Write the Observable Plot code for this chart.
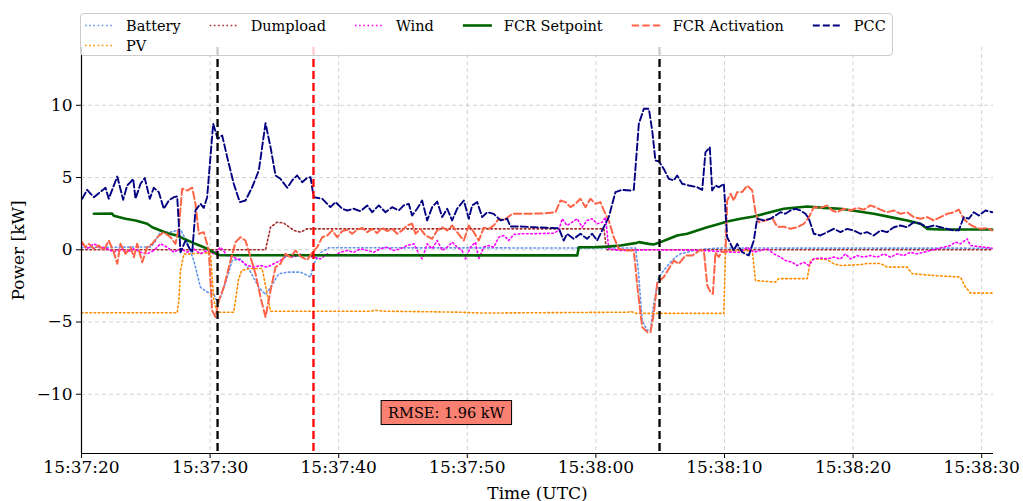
<!DOCTYPE html>
<html><head><meta charset="utf-8">
<script src="https://cdn.jsdelivr.net/npm/d3@7"></script>
<script src="https://cdn.jsdelivr.net/npm/@observablehq/plot@0.6"></script>
<style>
body{margin:0;background:#fff;}
#wrap{position:relative;width:1023px;height:501px;font-family:"DejaVu Serif",serif;}
#legend{position:absolute;left:80px;top:13px;width:813px;height:43px;box-sizing:border-box;border:1px solid #cccccc;border-radius:4px;background:rgba(255,255,255,0.8);}
</style></head><body><div id="wrap"></div>
<script>
// Time offsets in seconds after 15:37:20 UTC, values in kW
const battery = [[0,0.15],[5.37,0.2],[5.62,0.41],[6.14,1.22],[6.92,1.22],[7.7,1.4],[8.22,0.5],[8.73,-0.74],[9.25,-2.59],[9.77,-2.93],[10.29,-3.05],[10.55,-3.6],[10.81,-3.28],[11.33,-1.89],[11.72,-0.74],[12.36,-0.63],[13.01,-1.32],[13.79,-2.59],[14.31,-3.1],[14.7,-2.59],[15.35,-1.66],[16.0,-1.55],[17.03,-1.55],[17.81,-1.89],[18.06,-0.97],[18.58,-0.2],[19.23,0.14],[43.08,0.12],[43.31,-1.5],[43.6,-4.9],[43.99,-5.58],[44.25,-5.5],[44.5,-3.74],[44.89,-1.89],[45.28,-1.43],[45.8,-0.86],[46.19,-0.51],[46.58,-0.28],[47.1,-0.17],[47.57,-0.05],[48.35,0.05],[49.69,0.12],[70.82,0.11]];
const pv = [[0,-4.36],[7.44,-4.36],[7.57,-3.51],[7.7,-1.43],[7.96,-0.3],[10.03,-0.2],[10.29,-3.51],[10.55,-4.32],[11.84,-4.32],[12.2,-2.1],[12.45,-1.43],[13.0,-1.3],[14.05,-1.3],[14.31,-2.5],[14.7,-4.25],[17.03,-4.25],[22.47,-4.25],[22.86,-4.18],[23.4,-4.25],[29.47,-4.32],[31.03,-4.38],[42.53,-4.32],[42.69,-4.25],[43.08,-4.4],[49.95,-4.4],[50.08,-0.1],[52.16,-0.05],[52.41,-2.13],[53.97,-2.24],[54.22,-2.0],[56.43,-2.0],[56.69,-0.74],[56.95,-0.63],[57.99,-0.68],[58.5,-0.97],[59.02,-1.09],[60.57,-1.03],[61.09,-0.95],[62.13,-0.95],[62.65,-1.2],[64.21,-1.2],[64.6,-1.66],[66.28,-1.78],[68.35,-1.89],[68.74,-2.59],[69.13,-3.0],[70.82,-3.0]];
const dumpload = [[0,0],[14.31,0],[14.7,1.56],[15.22,1.91],[15.73,1.85],[16.51,1.34],[17.03,1.22],[17.55,1.45],[40.62,1.45],[40.83,0],[70.82,0]];
const wind = [[0,0.41],[0.44,0.07],[0.96,0.41],[1.48,0.18],[2.0,0.07],[2.51,-0.17],[3.03,0.07],[3.55,-0.17],[4.07,0.07],[4.59,-0.17],[5.11,-0.28],[5.62,-0.05],[6.14,0.41],[6.66,0.18],[7.18,-0.17],[7.7,0.07],[8.22,-0.17],[8.73,0.07],[9.25,-0.28],[9.77,-0.05],[10.29,-0.28],[10.81,0.18],[11.33,-0.4],[11.84,-0.51],[12.36,-0.74],[12.89,-1.09],[13.4,-1.2],[13.92,-1.09],[14.44,-1.2],[14.95,-0.97],[15.47,-0.74],[16.0,-0.4],[16.51,-0.51],[17.03,-0.3],[17.55,-0.39],[18.06,-0.51],[18.58,-0.63],[19.11,-0.28],[19.62,-0.39],[20.14,-0.17],[20.66,-0.05],[21.17,-0.17],[21.7,0.07],[22.22,-0.05],[22.73,-0.17],[23.25,0.07],[23.77,0.18],[24.29,-0.05],[24.81,0.07],[25.33,0.3],[25.84,0.41],[26.23,-0.28],[26.49,-0.63],[26.88,0.41],[27.27,0.07],[27.66,0.64],[28.05,-0.05],[28.44,0.18],[28.83,0.53],[29.21,0.18],[29.6,-0.05],[29.86,-0.63],[30.25,0.18],[30.64,0.53],[30.89,-0.63],[31.28,0.18],[31.67,0.3],[32.06,0.18],[32.45,0.87],[32.84,0.99],[33.23,0.64],[33.62,1.06],[34.14,1.11],[35.17,1.11],[36.73,1.15],[37.12,1.34],[37.38,2.15],[37.76,1.68],[38.16,1.91],[38.55,2.15],[38.93,1.56],[39.32,2.03],[39.71,2.15],[40.1,1.8],[40.49,1.91],[40.75,2.26],[41.0,0.07],[41.91,-0.05],[44.25,0.0],[47.88,-0.03],[50.72,-0.17],[51.24,-0.17],[51.77,0.18],[52.28,-0.17],[52.8,-0.05],[53.32,0.07],[53.84,-0.28],[54.35,-0.51],[54.74,-0.74],[55.26,-0.86],[55.65,-1.09],[56.17,-0.86],[56.56,-1.09],[56.95,-0.63],[57.47,-0.57],[57.99,-0.63],[58.5,-0.51],[59.02,-0.63],[59.41,-0.28],[59.8,-0.63],[60.32,-0.4],[60.83,-0.51],[61.35,-0.4],[61.87,-0.51],[62.39,-0.28],[62.91,-0.51],[63.43,-0.28],[63.95,-0.4],[64.46,-0.17],[64.98,-0.28],[65.5,-0.17],[66.02,-0.05],[66.54,0.07],[67.06,0.18],[67.57,0.3],[67.96,0.53],[68.35,0.41],[68.87,0.76],[69.13,0.3],[69.65,0.23],[70.16,0.18],[70.82,0.11]];
const fcrSetpoint = [[0.96,2.49],[2.39,2.5],[2.51,2.35],[3.42,2.15],[4.2,2.03],[5.11,1.8],[5.5,1.56],[6.14,1.34],[6.66,1.15],[7.44,0.99],[7.96,0.76],[8.73,0.46],[9.51,0.18],[10.29,-0.17],[10.55,-0.33],[10.81,-0.38],[38.55,-0.39],[38.67,0.18],[39.81,0.18],[40.88,0.22],[41.91,0.3],[43.08,0.46],[43.34,0.53],[44.12,0.41],[44.5,0.36],[45.02,0.53],[45.54,0.71],[46.32,0.99],[47.1,1.11],[47.88,1.34],[48.66,1.56],[49.43,1.75],[50.21,1.95],[51.24,2.15],[52.28,2.3],[53.32,2.55],[54.61,2.84],[56.43,3.0],[57.72,2.9],[59.02,2.84],[60.32,2.67],[61.61,2.49],[62.91,2.26],[64.21,2.03],[65.24,1.8],[65.76,1.45],[66.8,1.4],[70.82,1.4]];
const fcrActivation = [[0.05,0.53],[0.31,0.18],[0.57,0.41],[0.96,0.07],[1.35,0.3],[1.73,-0.05],[2.12,0.64],[2.51,-0.17],[2.78,-0.97],[3.03,0.41],[3.42,-0.28],[3.81,0.18],[4.07,-0.51],[4.33,0.41],[4.72,-0.86],[5.11,0.18],[5.5,0.41],[5.89,0.87],[6.4,1.22],[6.92,0.87],[7.31,0.41],[7.57,1.56],[7.83,4.22],[8.22,4.1],[8.61,4.3],[8.86,3.18],[9.12,1.11],[9.51,1.22],[9.9,-0.05],[10.16,-4.2],[10.42,-4.66],[10.68,-3.51],[11.07,-2.59],[11.59,-0.74],[11.98,0.53],[12.36,0.87],[12.75,0.64],[13.14,-0.51],[13.53,-1.66],[13.92,-3.28],[14.31,-4.66],[14.7,-2.82],[15.09,-1.2],[15.47,-0.97],[15.86,-0.28],[16.25,-0.51],[16.64,-0.05],[17.03,-0.45],[17.55,-0.7],[17.94,-0.2],[18.33,0.18],[18.72,0.87],[19.11,0.99],[19.5,1.34],[19.88,0.87],[20.27,1.29],[20.66,1.38],[21.05,1.11],[21.44,1.38],[21.83,1.52],[22.22,1.22],[22.6,1.45],[22.99,1.15],[23.38,1.52],[23.77,1.29],[24.16,1.45],[24.55,1.11],[24.94,1.34],[25.33,1.68],[25.71,1.8],[25.97,1.11],[26.36,1.45],[26.75,0.99],[27.27,0.76],[27.66,1.34],[28.05,1.56],[28.44,1.34],[28.83,1.68],[29.21,1.22],[29.73,0.64],[30.12,1.68],[30.51,1.22],[30.89,0.64],[31.28,1.52],[31.67,1.45],[32.06,1.68],[32.45,2.15],[32.84,2.03],[33.23,2.3],[33.49,2.49],[34.66,2.49],[35.95,2.52],[36.86,2.6],[37.25,3.41],[37.64,3.3],[38.02,2.95],[38.41,3.18],[38.8,3.53],[39.19,2.95],[39.58,3.53],[39.97,3.18],[40.36,3.3],[40.62,2.72],[41.0,2.03],[41.39,0.87],[41.78,0.07],[42.43,-0.05],[42.95,-0.05],[43.26,-2.82],[43.6,-5.35],[43.99,-5.7],[44.25,-5.7],[44.5,-4.43],[44.77,-2.3],[45.28,-1.89],[45.67,-1.32],[46.06,-0.74],[46.45,-0.97],[46.97,-0.4],[47.49,-0.4],[48.14,0.0],[48.4,-0.1],[48.66,-2.47],[48.91,-2.93],[49.1,-3.05],[49.3,-0.2],[49.56,-0.5],[49.82,-0.1],[50.08,-0.2],[50.21,3.41],[50.47,3.88],[50.72,3.41],[50.99,3.99],[51.38,4.0],[51.77,4.45],[52.16,4.1],[52.41,2.6],[52.67,1.91],[53.19,2.03],[53.71,2.2],[54.1,1.6],[54.61,1.6],[55.13,1.45],[55.65,1.56],[56.17,1.8],[56.56,2.26],[56.95,2.95],[57.47,2.9],[57.99,3.07],[58.38,2.72],[58.77,2.6],[59.28,2.84],[59.8,2.72],[60.32,2.9],[60.83,2.78],[61.35,3.07],[61.74,2.95],[62.13,2.78],[62.65,2.6],[63.17,2.72],[63.69,2.49],[64.21,2.6],[64.72,2.26],[65.24,2.15],[65.76,2.26],[66.28,2.03],[66.8,2.26],[67.32,2.49],[67.83,2.6],[68.22,2.78],[68.61,2.15],[69.0,1.8],[69.39,1.6],[69.91,1.45],[70.43,1.5],[70.82,1.34]];
const pcc = [[0.05,3.53],[0.44,4.15],[0.96,3.64],[1.87,4.29],[2.12,3.53],[2.78,5.07],[3.24,3.46],[3.55,4.45],[3.81,4.68],[4.02,4.91],[4.2,3.53],[4.59,4.57],[4.92,4.96],[5.31,3.53],[5.62,4.29],[6.01,3.99],[6.4,2.84],[6.79,3.41],[7.18,3.64],[7.44,3.69],[7.7,-0.17],[8.09,0.64],[8.34,0.18],[8.61,-0.17],[8.86,2.72],[9.25,3.18],[9.51,2.9],[9.77,3.64],[10.24,8.72],[10.6,7.68],[10.94,7.91],[11.33,6.41],[11.84,4.57],[12.31,3.3],[12.75,3.41],[13.27,4.33],[13.79,5.49],[14.31,8.76],[14.7,7.1],[15.09,5.14],[15.47,4.91],[16.0,4.29],[16.38,4.8],[16.77,5.14],[17.16,4.68],[17.55,4.98],[17.81,5.02],[18.06,3.64],[18.72,3.53],[19.36,2.95],[19.75,3.3],[20.27,2.84],[20.66,2.72],[21.17,2.84],[21.7,2.67],[22.22,3.07],[22.6,2.6],[23.12,3.07],[23.64,2.6],[24.16,2.95],[24.67,2.72],[25.06,3.07],[25.45,3.18],[25.71,2.37],[26.1,2.84],[26.49,3.41],[26.88,2.03],[27.27,2.95],[27.66,3.34],[28.05,2.26],[28.44,2.84],[28.82,2.03],[29.21,2.84],[29.73,3.41],[30.12,2.15],[30.38,3.07],[30.77,3.3],[31.16,2.26],[31.55,2.6],[32.06,2.49],[32.58,2.03],[33.1,2.15],[33.36,1.61],[34.14,1.61],[35.17,1.56],[36.21,1.52],[37.12,1.49],[37.5,0.64],[37.76,1.11],[38.28,0.76],[38.8,1.11],[39.32,0.76],[39.71,1.11],[40.1,0.64],[40.49,1.34],[41.0,2.26],[41.52,3.99],[42.04,4.15],[42.69,4.1],[42.95,4.15],[43.34,8.72],[43.73,9.76],[44.12,9.76],[44.38,8.26],[44.63,6.18],[44.89,6.13],[45.28,5.6],[45.67,4.91],[46.06,4.8],[46.32,5.14],[46.71,4.57],[47.23,4.45],[47.88,4.33],[48.27,4.15],[48.52,6.75],[48.86,7.1],[49.04,4.1],[49.3,4.45],[49.56,4.33],[49.95,4.57],[50.21,0.87],[50.47,0.41],[50.72,-0.05],[50.99,0.41],[51.38,-0.17],[51.89,-0.39],[52.28,0.64],[52.54,2.15],[53.06,2.03],[53.58,2.15],[53.97,2.37],[54.35,2.6],[54.74,2.49],[55.13,2.72],[55.52,2.84],[55.91,2.72],[56.3,2.49],[56.56,2.15],[56.95,1.11],[57.47,0.99],[57.99,1.22],[58.5,1.45],[59.02,1.22],[59.54,1.45],[60.05,1.34],[60.57,1.11],[61.09,1.22],[61.61,0.99],[62.13,1.34],[62.65,1.22],[63.17,1.56],[63.69,1.68],[64.21,1.56],[64.72,1.91],[65.24,1.8],[65.76,1.56],[66.28,1.68],[66.8,1.56],[67.32,1.45],[67.83,1.34],[68.22,1.34],[68.61,2.26],[69.0,2.15],[69.39,2.6],[69.78,2.37],[70.3,2.72],[70.82,2.6]];

const seriesNames = ["Battery","PV","Dumpload","Wind","FCR Setpoint","FCR Activation","PCC"];
const seriesData = [battery, pv, dumpload, wind, fcrSetpoint, fcrActivation, pcc];
const eventSeconds = [10.58, 18.04, 44.95];
const eventColors = ["black","red","black"];
const xTickSeconds = [0,10,20,30,40,50,60,70];
const yTicks = [-10,-5,0,5,10];
const xSpanSeconds = 70.92;
const yDomain = [-14.1, 14.0];
const rmseLabel = "RMSE: 1.96 kW";
const rmseAxesFrac = [0.4, 0.1];

// styles
const styles = {
  "Battery":       {stroke:"#6495ed", width:1.6, dash:"1.6,2.6"},
  "PV":            {stroke:"#ff8c00", width:1.6, dash:"1.6,2.6"},
  "Dumpload":      {stroke:"#a52a2a", width:1.6, dash:"1.6,2.6"},
  "Wind":          {stroke:"#ff00ff", width:1.6, dash:"1.6,2.6"},
  "FCR Setpoint":  {stroke:"#006400", width:2.6, dash:null},
  "FCR Activation":{stroke:"#ff6347", width:2.0, dash:"7.4,3.2"},
  "PCC":           {stroke:"#000080", width:1.9, dash:"7,3"}
};

const t0 = Date.UTC(2024,0,1,15,37,20);
const toDate = s => new Date(t0 + s*1000);
const xDomain = [toDate(0), toDate(xSpanSeconds)];
const xTicks = xTickSeconds.map(toDate);
const fmt = d3.utcFormat("%H:%M:%S");

const lineMarks = seriesNames.map((name, i) => {
  const st = styles[name];
  const rows = seriesData[i].map(([s, v]) => ({time: toDate(s), value: v}));
  const o = {x:"time", y:"value", stroke: st.stroke, strokeWidth: st.width, strokeLinejoin:"round"};
  if (st.dash) o.strokeDasharray = st.dash;
  return Plot.line(rows, o);
});

const events = eventSeconds.map((s, i) => ({time: toDate(s), color: eventColors[i]}));
const rmseRow = [{
  time: toDate(rmseAxesFrac[0]*xSpanSeconds),
  value: yDomain[0] + rmseAxesFrac[1]*(yDomain[1]-yDomain[0]),
  text: rmseLabel
}];

const chart = Plot.plot({
  width: 1023, height: 501,
  marginLeft: 81, marginRight: 30, marginTop: 47, marginBottom: 48,
  style: {fontFamily: "DejaVu Serif", fontSize: "17px", background: "white", color: "black", overflow: "visible"},
  x: {type: "utc", domain: xDomain, ticks: xTicks, tickFormat: fmt, tickSize: 5, tickPadding: 2, label: null},
  y: {domain: yDomain, ticks: yTicks, tickFormat: d => d < 0 ? "\u2212" + (-d) : String(d), tickSize: 5, tickPadding: 4, label: null},
  marks: [
    Plot.ruleX(xTicks, {stroke:"#b0b0b0", strokeOpacity:0.7, strokeWidth:0.8, strokeDasharray:"4,3"}),
    Plot.ruleY(yTicks, {stroke:"#b0b0b0", strokeOpacity:0.7, strokeWidth:0.8, strokeDasharray:"4,3"}),
    ...lineMarks,
    Plot.ruleX(events, {x:"time", stroke:"color", strokeWidth:2.3, strokeDasharray:"8,4"}),
    Plot.ruleX([xDomain[0]], {stroke:"black", strokeWidth:1.2}),
    Plot.ruleY([yDomain[0]], {stroke:"black", strokeWidth:1.2}),
    Plot.text(rmseRow, {x:"time", y:"value", text:"text", fontSize:14.5, fill:"black", textAnchor:"middle", lineAnchor:"middle", ariaLabel:"rmse", ariaDescription:"rmse-box"}),
    Plot.text(["Power [kW]"], {frameAnchor:"left", dx:-63, rotate:-90, fontSize:17, fill:"black", textAnchor:"middle", lineAnchor:"middle"}),
    Plot.text(["Time (UTC)"], {frameAnchor:"bottom", dy:40, fontSize:17, fill:"black", textAnchor:"middle", lineAnchor:"middle"})
  ]
});

const wrap = document.getElementById("wrap");
wrap.appendChild(chart);

// RMSE box behind text
let rmseText = null;
chart.querySelectorAll("text").forEach(t => { if (t.textContent === rmseLabel) rmseText = t; });
if (rmseText) {
  const bb = rmseText.getBBox();
  const padX = 7, padY = 4;
  const r = document.createElementNS("http://www.w3.org/2000/svg", "rect");
  r.setAttribute("x", bb.x - padX); r.setAttribute("y", bb.y - padY);
  r.setAttribute("width", bb.width + 2*padX); r.setAttribute("height", bb.height + 2*padY);
  r.setAttribute("fill", "salmon"); r.setAttribute("stroke", "black"); r.setAttribute("stroke-width", "1");
  const tr = rmseText.getAttribute("transform");
  if (tr) r.setAttribute("transform", tr);
  rmseText.parentNode.insertBefore(r, rmseText);
}

// Legend (column-major, 6 columns like matplotlib)
const legendDiv = document.createElement("div");
legendDiv.id = "legend";
wrap.appendChild(legendDiv);
const ncol = 6;
const cols = [];
{
  let idx = 0;
  const base = Math.floor(seriesNames.length / ncol), extra = seriesNames.length % ncol;
  for (let c = 0; c < ncol; c++) {
    const n = base + (c < extra ? 1 : 0);
    cols.push(seriesNames.slice(idx, idx + n));
    idx += n;
  }
}
const canvas = document.createElement("canvas").getContext("2d");
canvas.font = "14.5px 'DejaVu Serif'";
const handleLen = 29, textPad = 12, colSpace = 29, padLeft = 4;
const lsvg = d3.select(legendDiv).append("svg").attr("width", 811).attr("height", 41)
  .style("position","absolute").style("left","0px").style("top","0px");
let cx = padLeft;
const rowY = [11.5, 31.5];
cols.forEach(names => {
  let maxW = 0;
  names.forEach((name, r) => {
    const st = styles[name];
    const y = rowY[r];
    const ln = lsvg.append("line").attr("x1", cx).attr("x2", cx + handleLen).attr("y1", y).attr("y2", y)
      .attr("stroke", st.stroke).attr("stroke-width", st.width);
    if (st.dash) ln.attr("stroke-dasharray", st.dash);
    lsvg.append("text").attr("x", cx + handleLen + textPad).attr("y", y).attr("dy", "0.35em")
      .attr("font-family", "DejaVu Serif").attr("font-size", 14.5).attr("fill", "black").text(name);
    maxW = Math.max(maxW, canvas.measureText(name).width);
  });
  cx += handleLen + textPad + maxW + colSpace;
});
</script></body></html>
